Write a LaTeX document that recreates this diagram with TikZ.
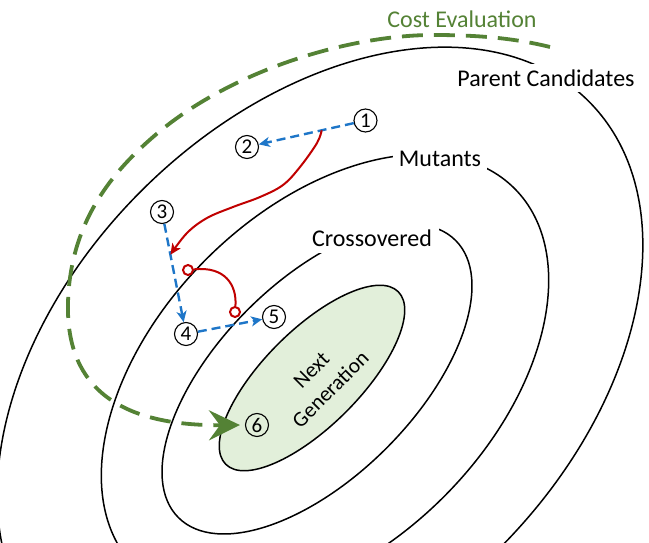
\documentclass[tikz,border=0pt]{standalone}
\usepackage{fontspec}
\setmainfont{Carlito}
\usetikzlibrary{arrows.meta,calc,shapes.geometric}
\definecolor{cgreen}{RGB}{84,130,53}
\definecolor{cfill}{RGB}{226,239,218}
\definecolor{cblue}{RGB}{30,118,200}
\definecolor{cred}{RGB}{192,0,0}
\begin{document}
\begin{tikzpicture}[x=1pt,y=-1pt,
  contour/.style={line width=1.5pt, black},
  lbl/.style={font=\fontsize{24}{28}\selectfont, inner sep=6pt, fill=white},
  num/.style={circle, draw, line width=1.1pt, minimum size=23pt, inner sep=0pt, font=\fontsize{21}{21}\selectfont},
  blueflow/.style={cblue, line width=2.4pt, dash pattern=on 9pt off 5pt, -{Stealth[length=11pt,width=10pt,inset=3pt]}},
  redflow/.style={cred, line width=2pt},
  dotc/.style={circle, draw=cred, line width=2pt, fill=white, minimum size=10pt, inner sep=0pt},
  evalflow/.style={cgreen, line width=3.8pt, dash pattern=on 21pt off 11pt, -{Stealth[length=31pt,width=30pt,inset=11pt]}},
]
\useasboundingbox (0,0) rectangle (649,543);
\clip (0,0) rectangle (649,543);

% contours
\draw[contour, rotate around={45:(320,370)}] (320,370) ellipse [x radius=380, y radius=253];
\draw[contour, rotate around={45:(325,378)}] (325,378) ellipse [x radius=268, y radius=168];
\draw[contour, rotate around={45:(317,379)}] (317,379) ellipse [x radius=196, y radius=98];

% labels (they break the contours)
\node[lbl, text=cgreen] (tcost) at (462,19) {Cost Evaluation};
\node[lbl] (tpar) at (546,78) {Parent Candidates};
\node[lbl] (tmut) at (440,159) {Mutants};
\node[lbl, inner sep=7pt] (tcro) at (372,238) {Crossovered};

% next generation
\node[ellipse, draw, line width=1.5pt, fill=cfill, minimum width=244pt, minimum height=96pt, rotate=45] (ng) at (312,378) {};
\node[font=\fontsize{21.5}{27}\selectfont, inner sep=0pt, rotate=45, align=center] (ngt) at (321,380) {Next\\Generation};

% numbered circles
\node[num] (c1) at (365.5,120.5) {1};
\node[num] (c2) at (247,147) {2};
\node[num] (c3) at (162,212) {3};
\node[num] (c4) at (186,334) {4};
\node[num] (c5) at (274,317) {5};
\node[num] (c6) at (257,425) {6};

% blue flows
\draw[blueflow] (c1) -- (c2);
\draw[blueflow] (c3) -- (c4);
\draw[blueflow] (c4) -- (c5);

% red flows
\coordinate (r1) at ($(c1)!0.37!(c2)$);
\coordinate (r2) at ($(c3)!0.35!(c4)$);
\draw[redflow, -{Stealth[length=11pt,width=10pt,inset=3pt]}] plot[smooth,tension=0.6] coordinates {(r1) (317,143) (300,167) (283,185) (260,197) (233,207) (207,218) (187,233) (r2)};
\node[dotc] (d1) at (188,270) {};
\node[dotc] (d2) at (235,312) {};
\draw[redflow] (d1) .. controls (225,266) and (237,285) .. (d2);

% cost evaluation
\coordinate (g0) at (550,47);
\draw[evalflow, shorten >=5pt] (g0) .. controls (510,37) and (470,35) .. (433,35)
  .. controls (350,35) and (230,70) .. (153,137)
  .. controls (115,170) and (70,220) .. (68,303)
  .. controls (66,380) and (110,426) .. (c6.west);
\end{tikzpicture}
\end{document}
